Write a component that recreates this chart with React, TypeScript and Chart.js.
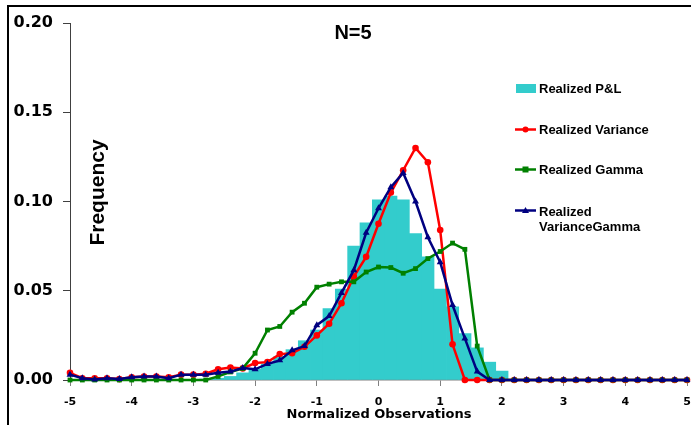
import React, { useEffect, useRef } from "react";
import { Chart, registerables } from "chart.js";

Chart.register(...registerables);

const xValues = [
  -5, -4.8, -4.6, -4.4, -4.2, -4, -3.8, -3.6, -3.4, -3.2,
  -3, -2.8, -2.6, -2.4, -2.2, -2, -1.8, -1.6, -1.4, -1.2,
  -1, -0.8, -0.6, -0.4, -0.2, 0, 0.2, 0.4, 0.6, 0.8,
  1, 1.2, 1.4, 1.6, 1.8, 2, 2.2, 2.4, 2.6, 2.8,
  3, 3.2, 3.4, 3.6, 3.8, 4, 4.2, 4.4, 4.6, 4.8, 5,
];

const realizedPnL = [
  0, 0, 0, 0, 0, 0, 0, 0, 0, 0,
  0, 0.0005, 0.001, 0.002, 0.004, 0.006, 0.009, 0.013, 0.017, 0.022,
  0.028, 0.04, 0.051, 0.075, 0.088, 0.101, 0.103, 0.101, 0.082, 0.069,
  0.051, 0.041, 0.026, 0.018, 0.01, 0.005, 0, 0, 0, 0,
  0, 0, 0, 0, 0, 0, 0, 0, 0, 0, 0,
];

const realizedVariance = [
  0.004, 0.001, 0.001, 0.001, 0.0005, 0.0015, 0.002, 0.002, 0.0015, 0.003,
  0.003, 0.0035, 0.006, 0.007, 0.0065, 0.0095, 0.01, 0.0145, 0.015, 0.0186,
  0.025, 0.0315, 0.043, 0.058, 0.069, 0.0875, 0.105, 0.1175, 0.13, 0.122,
  0.084, 0.02, 0, 0, 0, 0, 0, 0, 0, 0,
  0, 0, 0, 0, 0, 0, 0, 0, 0, 0, 0,
];

const realizedGamma = [
  0, 0, 0, 0, 0, 0, 0, 0, 0, 0,
  0, 0, 0.002, 0.0045, 0.0065, 0.015, 0.028, 0.03, 0.038, 0.043,
  0.052, 0.0537, 0.055, 0.055, 0.0605, 0.0633, 0.063, 0.0598, 0.0624, 0.068,
  0.072, 0.0767, 0.0732, 0.019, 0, 0, 0, 0, 0, 0,
  0, 0, 0, 0, 0, 0, 0, 0, 0, 0, 0,
];

const realizedVarianceGamma = [
  0.003, 0.001, 0.0003, 0.001, 0.0005, 0.0015, 0.002, 0.002, 0.001, 0.003,
  0.003, 0.003, 0.004, 0.0047, 0.0067, 0.006, 0.009, 0.011, 0.0166, 0.019,
  0.0307, 0.0358, 0.0488, 0.0615, 0.0825, 0.0962, 0.108, 0.116, 0.1, 0.08,
  0.066, 0.042, 0.0233, 0.0047, 0, 0, 0, 0, 0, 0,
  0, 0, 0, 0, 0, 0, 0, 0, 0, 0, 0,
];

const seriesLabels = [
  "Realized P&L",
  "Realized Variance",
  "Realized Gamma",
  "Realized\nVarianceGamma",
];
const chartTitle = "N=5";
const yAxisTitle = "Frequency";
const xAxisTitle = "Normalized Observations";

const CYAN = "#33CCCC";
const RED = "#FF0000";
const GREEN = "#008000";
const NAVY = "#000080";

const toPoints = (ys: number[]) => xValues.map((x, i) => ({ x, y: ys[i] }));

const textPlugin = {
  id: "customText",
  afterDraw(chart: any) {
    const ctx = chart.ctx as CanvasRenderingContext2D;
    ctx.save();
    ctx.fillStyle = "#000";
    // title
    ctx.font = "bold 20px 'Liberation Sans', Arial, sans-serif";
    ctx.textAlign = "center";
    ctx.textBaseline = "alphabetic";
    ctx.fillText(chartTitle, 353, 38.5);
    // x axis title
    ctx.font = "bold 13px 'DejaVu Sans', sans-serif";
    ctx.fillText(xAxisTitle, 379, 418);
    // y axis title
    ctx.save();
    ctx.translate(104, 192.5);
    ctx.rotate(-Math.PI / 2);
    ctx.font = "bold 21px 'Liberation Sans', Arial, sans-serif";
    ctx.textAlign = "center";
    ctx.fillText(yAxisTitle, 0, 0);
    ctx.restore();

    // legend
    const lx = 515;
    const tx = 539;
    ctx.textAlign = "left";
    ctx.font = "bold 13px 'Liberation Sans', Arial, sans-serif";
    ctx.fillStyle = CYAN;
    ctx.fillRect(516, 84, 20, 9);
    ctx.fillStyle = "#000";
    ctx.fillText(seriesLabels[0].replace("\n", " "), tx, 93.3);

    const entries = [
      { color: RED, y: 129.5, marker: "circle", base: [134] },
      { color: GREEN, y: 169.5, marker: "rect", base: [174.3] },
      { color: NAVY, y: 210.5, marker: "triangle", base: [216, 230.7] },
    ];
    entries.forEach((e, k) => {
      ctx.strokeStyle = e.color;
      ctx.lineWidth = 2.5;
      ctx.beginPath();
      ctx.moveTo(lx, e.y);
      ctx.lineTo(lx + 21, e.y);
      ctx.stroke();
      ctx.fillStyle = e.color;
      const cx = lx + 10.5;
      ctx.beginPath();
      if (e.marker === "circle") {
        ctx.arc(cx, e.y, 3, 0, Math.PI * 2);
      } else if (e.marker === "rect") {
        ctx.rect(cx - 3, e.y - 3, 6, 6);
      } else {
        ctx.moveTo(cx, e.y - 3.5);
        ctx.lineTo(cx + 3.5, e.y + 2.5);
        ctx.lineTo(cx - 3.5, e.y + 2.5);
        ctx.closePath();
      }
      ctx.fill();
      ctx.fillStyle = "#000";
      const lines = seriesLabels[k + 1].split("\n");
      lines.forEach((ln, j) => ctx.fillText(ln, tx, e.base[j]));
    });
    ctx.restore();
  },
};

export default function App() {
  const canvasRef = useRef<HTMLCanvasElement | null>(null);

  useEffect(() => {
    const canvas = canvasRef.current;
    if (!canvas) return;
    const lineCommon = {
      type: "line" as const,
      borderWidth: 2.5,
      pointRadius: 3.3,
      pointHoverRadius: 3.3,
      pointBorderWidth: 0,
      tension: 0,
      clip: false as any,
      fill: false,
    };
    const chart = new Chart(canvas, {
      type: "bar",
      data: {
        datasets: [
          {
            type: "bar",
            label: seriesLabels[0],
            data: toPoints(realizedPnL),
            backgroundColor: CYAN,
            borderWidth: 0,
            barPercentage: 1,
            categoryPercentage: 1,
            order: 10,
          } as any,
          {
            ...lineCommon,
            label: seriesLabels[1],
            data: toPoints(realizedVariance),
            borderColor: RED,
            backgroundColor: RED,
            pointStyle: "circle",
            order: 3,
          },
          {
            ...lineCommon,
            label: seriesLabels[2],
            data: toPoints(realizedGamma),
            borderColor: GREEN,
            backgroundColor: GREEN,
            pointStyle: "rect",
            pointRadius: 3.4,
            order: 2,
          },
          {
            ...lineCommon,
            label: seriesLabels[3],
            data: toPoints(realizedVarianceGamma),
            borderColor: NAVY,
            backgroundColor: NAVY,
            pointStyle: "triangle",
            pointRadius: 4,
            order: 1,
          },
        ],
      },
      options: {
        animation: false,
        responsive: false,
        devicePixelRatio: 1,
        layout: { padding: { left: 0, top: 23, right: 2, bottom: 0 } },
        plugins: {
          legend: { display: false },
          title: { display: false },
          tooltip: { enabled: false },
        },
        scales: {
          x: {
            type: "linear",
            min: -5,
            max: 5,
            offset: false,
            grid: {
              display: true,
              drawOnChartArea: false,
              drawTicks: true,
              tickLength: 6,
              color: "#808080",
              offset: false,
            },
            border: { display: true, color: "#808080", width: 1.5 },
            ticks: {
              stepSize: 1,
              color: "#000",
              padding: 10,
              maxRotation: 0,
              font: { family: "'DejaVu Sans', sans-serif", size: 11, weight: "bold" },
              callback: (v: any) => String(v),
            },
            afterFit: (scale: any) => {
              scale.height = 45;
              scale.paddingLeft = 0;
              scale.paddingRight = 0;
            },
          } as any,
          y: {
            min: 0,
            max: 0.2,
            grid: {
              display: true,
              drawOnChartArea: false,
              drawTicks: true,
              tickLength: 7,
              color: "#404040",
            },
            border: { display: true, color: "#404040", width: 1 },
            ticks: {
              stepSize: 0.05,
              color: "#000",
              padding: 10,
              font: { family: "'DejaVu Sans', sans-serif", size: 16, weight: "bold" },
              callback: (v: any) => Number(v).toFixed(2),
            },
            afterFit: (scale: any) => {
              scale.width = 70;
              scale.paddingTop = 0;
              scale.paddingBottom = 0;
            },
          } as any,
        },
      },
      plugins: [textPlugin],
    });
    return () => chart.destroy();
  }, []);

  return (
    <>
      <div
        style={{
          position: "absolute",
          left: 7,
          top: 5,
          width: 684,
          height: 420,
          boxSizing: "border-box",
          borderLeft: "2px solid #000",
          borderTop: "2px solid #000",
        }}
      />
      <canvas
        ref={canvasRef}
        width={691}
        height={425}
        style={{ position: "fixed", left: 0, top: 0, width: 691, height: 425 }}
      />
    </>
  );
}
